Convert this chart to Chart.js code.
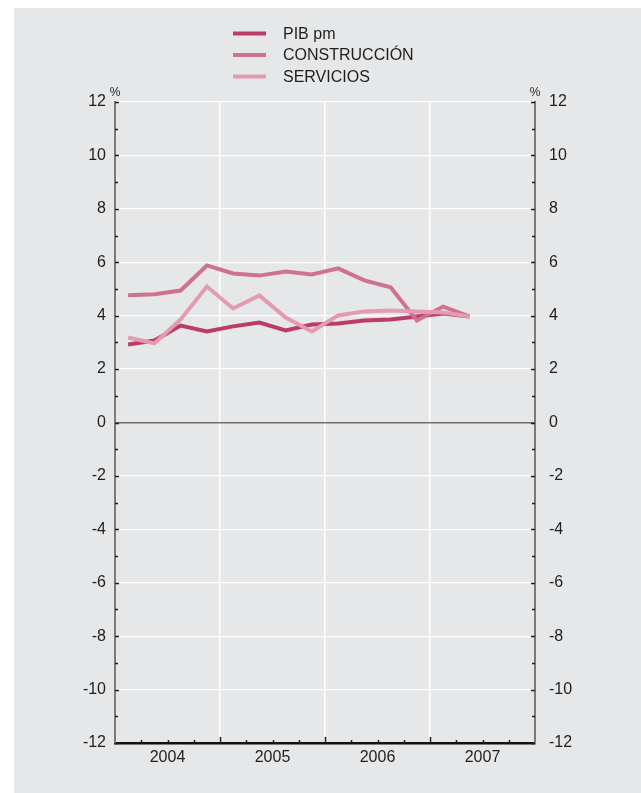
<!DOCTYPE html>
<html lang="es">
<head>
<meta charset="utf-8">
<title>PIB, construcción y servicios</title>
<script src="https://cdn.jsdelivr.net/npm/chart.js@4.4.1/dist/chart.umd.min.js"></script>
<style>
  html, body { margin: 0; padding: 0; background: #ffffff; }
  #wrap { position: relative; width: 641px; height: 793px; }
</style>
</head>
<body>
<div id="wrap"><canvas id="grafico"></canvas></div>
<script>
// ==================== Datos ====================
// trimestres 2004-I a 2007-II
const trimestres = ['2004 I', '2004 II', '2004 III', '2004 IV',
                    '2005 I', '2005 II', '2005 III', '2005 IV',
                    '2006 I', '2006 II', '2006 III', '2006 IV',
                    '2007 I', '2007 II'];
const anios = ['2004', '2005', '2006', '2007'];

const pib          = [2.92, 3.07, 3.63, 3.41, 3.60, 3.74, 3.45, 3.67, 3.71, 3.82, 3.86, 3.97, 4.08, 3.97];
const construccion = [4.76, 4.80, 4.94, 5.88, 5.58, 5.50, 5.65, 5.54, 5.77, 5.32, 5.06, 3.82, 4.34, 3.97];
const servicios    = [3.18, 2.96, 3.86, 5.09, 4.27, 4.76, 3.93, 3.41, 4.01, 4.16, 4.19, 4.16, 4.12, 3.97];

const ejeY = { min: -12, max: 12, paso: 2 };
const fuente = 'Liberation Sans, Arial, Helvetica, sans-serif';

// cada trimestre ocupa una unidad del eje x, el punto va en el centro
function aPuntos(valores) {
  return valores.map((v, i) => ({ x: i + 0.5, y: v }));
}

// ==================== Plugins ====================
// fondo gris del recuadro
const fondo = {
  id: 'fondo',
  beforeDraw(chart) {
    const c = chart.ctx;
    c.save();
    c.fillStyle = '#e6e7e9';
    c.fillRect(14, 8, chart.width - 14, chart.height - 8);
    c.restore();
  }
};

// marcas interiores de los ejes, simbolos % y leyenda
const adornos = {
  id: 'adornos',
  afterDraw(chart) {
    const c = chart.ctx;
    const a = chart.chartArea;
    const y = chart.scales.y;
    const x = chart.scales.x;
    c.save();
    c.strokeStyle = '#1e1e1e';
    c.lineWidth = 1.5;
    c.beginPath();
    for (let v = ejeY.min; v <= ejeY.max; v++) {
      const py = Math.round(y.getPixelForValue(v)) + 0.5;
      const largo = v % 2 === 0 ? 4 : 3;
      c.moveTo(a.left, py); c.lineTo(a.left + largo, py);
      c.moveTo(a.right, py); c.lineTo(a.right - largo, py);
    }
    for (let q = 1; q < anios.length * 4; q++) {
      const px = Math.round(x.getPixelForValue(q)) + 0.5;
      const largo = q % 4 === 0 ? 6 : 3;
      c.moveTo(px, a.bottom); c.lineTo(px, a.bottom - largo);
    }
    c.stroke();

    // % sobre los ejes
    c.fillStyle = '#1e1e1e';
    c.font = '12px ' + fuente;
    c.textAlign = 'center';
    c.textBaseline = 'middle';
    c.fillText('%', a.left, a.top - 9);
    c.fillText('%', a.right, a.top - 9);

    // leyenda
    c.font = '16px ' + fuente;
    c.textAlign = 'left';
    chart.data.datasets.forEach((ds, i) => {
      const ly = 33.5 + i * 21.5;
      c.strokeStyle = ds.borderColor;
      c.lineWidth = 4;
      c.beginPath();
      c.moveTo(233, ly); c.lineTo(266, ly);
      c.stroke();
      c.fillStyle = '#1e1e1e';
      c.fillText(ds.label, 283, ly + 1);
    });
    c.restore();
  }
};

// ==================== Gráfico ====================
const ctx = document.getElementById('grafico').getContext('2d');

const marcasY = {
  min: ejeY.min,
  max: ejeY.max,
  ticks: { stepSize: ejeY.paso, color: '#1e1e1e', font: { family: fuente, size: 16 } }
};

new Chart(ctx, {
  type: 'line',
  data: {
    datasets: [
      { label: 'PIB pm', data: aPuntos(pib), borderColor: '#bb3c66', order: 3 },
      { label: 'CONSTRUCCIÓN', data: aPuntos(construccion), borderColor: '#cf7191', order: 2 },
      { label: 'SERVICIOS', data: aPuntos(servicios), borderColor: '#e39bb3', order: 1 }
    ].map(ds => Object.assign(ds, {
      borderWidth: 4,
      pointRadius: 0,
      tension: 0,
      fill: false,
      borderJoinStyle: 'miter'
    }))
  },
  options: {
    responsive: true,
    maintainAspectRatio: false,
    animation: false,
    layout: { padding: { left: 14, top: 102, right: 0, bottom: 0 } },
    plugins: {
      legend: { display: false },
      tooltip: { enabled: false }
    },
    scales: {
      x: {
        type: 'linear',
        min: 0,
        max: anios.length * 4,
        afterFit(scale) { scale.height = 50; },
        afterBuildTicks(scale) {
          const t = [];
          for (let v = 0; v <= anios.length * 4; v += 2) t.push({ value: v });
          scale.ticks = t;
        },
        ticks: {
          autoSkip: false,
          maxRotation: 0,
          padding: 5,
          color: '#1e1e1e',
          font: { family: fuente, size: 16 },
          callback: (v) => (v % 4 === 2 ? anios[(v - 2) / 4] : '')
        },
        grid: {
          drawTicks: false,
          lineWidth: 1.5,
          color: (c) => {
            const v = c.tick ? c.tick.value : -1;
            return v % 4 === 0 && v > 0 && v < anios.length * 4 ? '#ffffff' : 'rgba(0,0,0,0)';
          }
        },
        border: { color: '#111111', width: 2.5 }
      },
      y: Object.assign({}, marcasY, {
        position: 'left',
        afterFit(scale) { scale.width = 101; },
        ticks: Object.assign({}, marcasY.ticks, { padding: 9 }),
        grid: {
          drawTicks: false,
          color: (c) => (c.tick && c.tick.value === 0 ? '#6f6f6f' : '#ffffff'),
          lineWidth: (c) => (c.tick && c.tick.value === 0 ? 1.5 : 1.2)
        },
        border: { color: '#7b7b7b', width: 2 }
      }),
      y2: Object.assign({}, marcasY, {
        position: 'right',
        afterFit(scale) { scale.width = 106; },
        ticks: Object.assign({}, marcasY.ticks, { padding: 14 }),
        grid: { drawTicks: false, drawOnChartArea: false },
        border: { color: '#7b7b7b', width: 2 }
      })
    }
  },
  plugins: [fondo, adornos]
});
</script>
</body>
</html>
